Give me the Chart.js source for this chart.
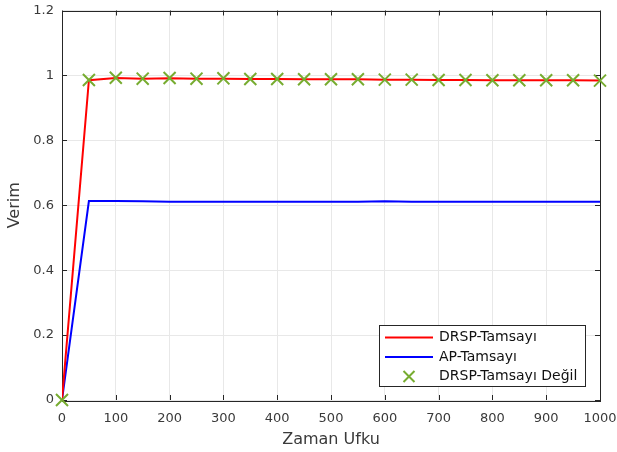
<!DOCTYPE html>
<html><head><meta charset="utf-8">
<script src="https://cdn.jsdelivr.net/npm/chart.js@4/dist/chart.umd.min.js"></script>
<style>html,body{margin:0;padding:0;background:#fff}#wrap{width:617px;height:452px}</style>
</head><body><div id="wrap"><canvas id="c" width="617" height="452"></canvas></div>
<script>
const horizon = [0,50,100,150,200,250,300,350,400,450,500,550,600,650,700,750,800,850,900,950,1000];
const drspInt = [0,0.985,0.992,0.990,0.991,0.990,0.990,0.989,0.989,0.988,0.988,0.988,0.987,0.987,0.986,0.986,0.985,0.985,0.985,0.985,0.984];
const apInt   = [0,0.613,0.613,0.612,0.611,0.611,0.611,0.611,0.611,0.611,0.611,0.611,0.612,0.611,0.611,0.611,0.611,0.611,0.611,0.611,0.611];
const drspNonInt = [0,0.986,0.993,0.990,0.992,0.990,0.991,0.989,0.989,0.988,0.988,0.988,0.987,0.987,0.986,0.986,0.985,0.985,0.985,0.985,0.984];
const seriesNames = ['DRSP-Tamsayı','AP-Tamsayı','DRSP-Tamsayı Değil'];
const xTitle = 'Zaman Ufku', yTitle = 'Verim';

const pts = arr => horizon.map((x,i)=>({x:x,y:arr[i]}));
const FONT = '"DejaVu Sans", sans-serif';
const axisCol = '#262626';
const textCol = '#3a3a3a';

const boxPlugin = {
  id:'box',
  beforeDatasetsDraw(chart){
    const ctx = chart.ctx, a = chart.chartArea, xs = chart.scales.x, ys = chart.scales.y;
    ctx.save();
    ctx.strokeStyle = axisCol; ctx.lineWidth = 1;
    ctx.beginPath();
    xs.ticks.forEach(t=>{ const px = Math.round(xs.getPixelForValue(t.value))+0.5;
      ctx.moveTo(px,a.bottom); ctx.lineTo(px,a.bottom-5);
      ctx.moveTo(px,a.top); ctx.lineTo(px,a.top+5); });
    ys.ticks.forEach(t=>{ const py = Math.round(ys.getPixelForValue(t.value))+0.5;
      ctx.moveTo(a.left,py); ctx.lineTo(a.left+5,py);
      ctx.moveTo(a.right,py); ctx.lineTo(a.right-5,py); });
    ctx.stroke();
    ctx.strokeRect(Math.round(a.left)+0.5, Math.round(a.top)+0.5, Math.round(a.right-a.left), Math.round(a.bottom-a.top));
    ctx.restore();
  },
  afterDraw(chart){
    const ctx = chart.ctx;
    ctx.save();
    const lx = 379.5, ly = 325.5, lw = 206, lh = 61;
    ctx.fillStyle = '#fff'; ctx.fillRect(lx,ly,lw,lh);
    ctx.strokeStyle = axisCol; ctx.lineWidth = 1; ctx.strokeRect(lx,ly,lw,lh);
    const ds = chart.data.datasets;
    const rows = [337.5, 357, 376.5];
    ctx.font = '14px ' + FONT; ctx.textBaseline = 'middle';
    ds.forEach((d,i)=>{
      const y = rows[i];
      if (d.showLine !== false) {
        ctx.strokeStyle = d.borderColor; ctx.lineWidth = 2;
        ctx.beginPath(); ctx.moveTo(385,y); ctx.lineTo(433,y); ctx.stroke();
      } else {
        ctx.strokeStyle = d.pointBorderColor; ctx.lineWidth = 2;
        const cx = 409, r = 5.5;
        ctx.beginPath(); ctx.moveTo(cx-r,y-r); ctx.lineTo(cx+r,y+r); ctx.moveTo(cx-r,y+r); ctx.lineTo(cx+r,y-r); ctx.stroke();
      }
      ctx.fillStyle = '#111';
      ctx.fillText(d.label, 439, y);
    });
    ctx.restore();
  }
};

new Chart(document.getElementById('c'), {
  type:'line',
  data:{ datasets:[
    {label:seriesNames[0], data:pts(drspInt), borderColor:'#ff0000', borderWidth:2, pointRadius:0, tension:0, order:2},
    {label:seriesNames[1], data:pts(apInt), borderColor:'#0000ff', borderWidth:2, pointRadius:0, tension:0, order:3},
    {label:seriesNames[2], data:pts(drspNonInt), showLine:false, pointStyle:'crossRot', pointRadius:8.5, pointBorderColor:'#77ac30', pointBorderWidth:2, borderColor:'#77ac30', clip:false, order:1}
  ]},
  options:{
    responsive:false, animation:false, devicePixelRatio:1,
    layout:{padding:{top:6,right:17,left:0,bottom:0}},
    plugins:{legend:{display:false}, tooltip:{enabled:false}},
    scales:{
      x:{type:'linear', min:0, max:1000,
        ticks:{stepSize:100, padding:11, color:textCol, font:{family:FONT,size:13}, maxRotation:0, callback:v=>String(v)},
        grid:{color:'#e8e8e8', drawTicks:false}, border:{display:false},
        title:{display:true, text:xTitle, color:textCol, font:{family:FONT,size:16}, padding:{top:2,bottom:3}},
        afterFit(s){ s.height = 52; s.paddingLeft = 0; s.paddingRight = 0; if (s._margins){ s._margins.left = 0; s._margins.right = 0; } }
      },
      y:{min:0, max:1.2,
        ticks:{stepSize:0.2, padding:8, color:textCol, font:{family:FONT,size:13}, callback:v=>String(parseFloat(v.toFixed(1)))},
        grid:{color:'#e8e8e8', drawTicks:false}, border:{display:false},
        title:{display:true, text:yTitle, color:textCol, font:{family:FONT,size:16}, padding:{top:5,bottom:0}},
        afterFit(s){ s.width = 62; s.paddingTop = 0; s.paddingBottom = 0; if (s._margins){ s._margins.top = 0; s._margins.bottom = 0; } }
      }
    }
  },
  plugins:[boxPlugin]
});
</script></body></html>
